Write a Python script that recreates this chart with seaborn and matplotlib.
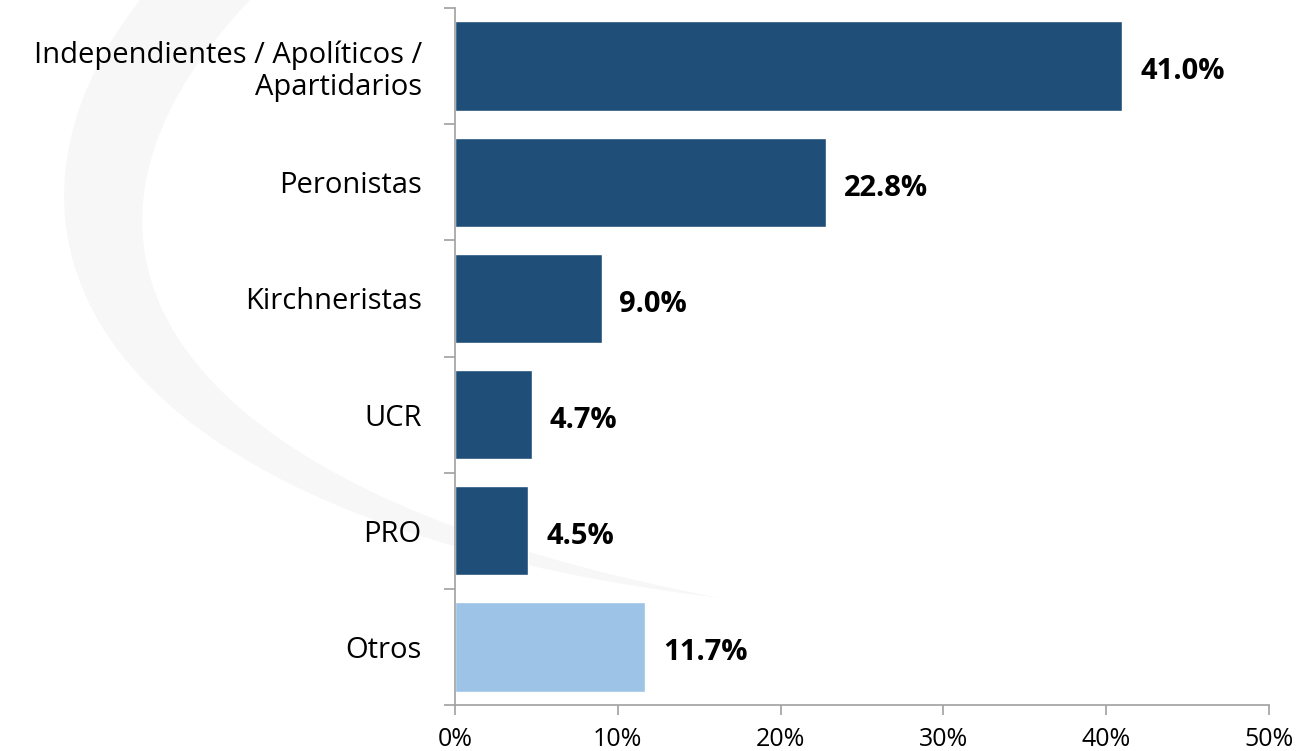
import matplotlib
matplotlib.use('Agg')
import matplotlib.pyplot as plt
from matplotlib.patches import Polygon
import seaborn as sns
import pandas as pd
import numpy as np

categories = ['Independientes / Apolíticos /\nApartidarios', 'Peronistas', 'Kirchneristas', 'UCR', 'PRO', 'Otros']
values = [41.0, 22.8, 9.0, 4.7, 4.5, 11.7]
groups = ['main', 'main', 'main', 'main', 'main', 'other']
xticks = [0, 10, 20, 30, 40, 50]

df = pd.DataFrame({'cat': categories, 'val': values, 'grp': groups})

sns.set_style('white')
plt.rcParams['font.family'] = ['Open Sans', 'DejaVu Sans']

W, H = 1297, 751
fig = plt.figure(figsize=(W / 100, H / 100), dpi=100)


# faint background watermark (crescent), drawn in a background axes in pixel coords
def bez(p0, p1, p2, p3, n=80):
    t = np.linspace(0, 1, n)[:, None]
    return ((1 - t) ** 3) * p0 + 3 * ((1 - t) ** 2) * t * p1 + 3 * (1 - t) * t ** 2 * p2 + t ** 3 * p3

bg = fig.add_axes([0, 0, 1, 1], zorder=-1)
bg.set_xlim(0, W)
bg.set_ylim(H, 0)
bg.axis('off')
outer = bez(np.array([140, 0]), np.array([-40, 230]), np.array([80, 520]), np.array([720, 598]))
inner = bez(np.array([250, 0]), np.array([20, 240]), np.array([150, 490]), np.array([720, 598]))
bg.add_patch(Polygon(np.vstack([outer, inner[::-1]]), closed=True,
                     facecolor='#F7F7F7', edgecolor='none'))

ax = fig.add_axes([455 / W, 1 - 705 / H, (1269 - 455) / W, (705 - 8) / H])
ax.patch.set_alpha(0)

sns.barplot(data=df, y='cat', x='val', hue='grp', orient='h', dodge=False,
            palette={'main': '#1F4E79', 'other': '#9DC3E6'}, width=0.77,
            legend=False, ax=ax, saturation=1)

for i, v in enumerate(values):
    ax.text(v + 1.1, i + 0.05, f'{v:.1f}%', va='center', ha='left',
            fontsize=21, fontweight='bold', color='black')

ax.set_xlim(0, 50)
ax.set_ylim(len(categories) - 0.5, -0.5)
ax.set_xticks(xticks)
ax.set_xticklabels([f'{t}%' for t in xticks], fontsize=18, color='black')
ax.set_yticks(range(len(categories)))
ax.set_yticklabels(categories, fontsize=21, color='black', linespacing=1.15)
ax.tick_params(axis='y', which='major', left=False, length=0, pad=24)
ax.set_yticks(np.arange(-0.5, len(categories)), minor=True)
ax.tick_params(axis='y', which='minor', left=True, length=8, color='#A0A0A0', width=1.2, direction='out')
ax.tick_params(axis='x', which='major', bottom=True, length=7, color='#A0A0A0', width=1.2, direction='out', pad=9)
ax.set_xlabel('')
ax.set_ylabel('')

for s in ['top', 'right']:
    ax.spines[s].set_visible(False)
for s in ['left', 'bottom']:
    ax.spines[s].set_color('#A0A0A0')
    ax.spines[s].set_linewidth(1.2)

fig.savefig('out.png', dpi=100, facecolor='white')
